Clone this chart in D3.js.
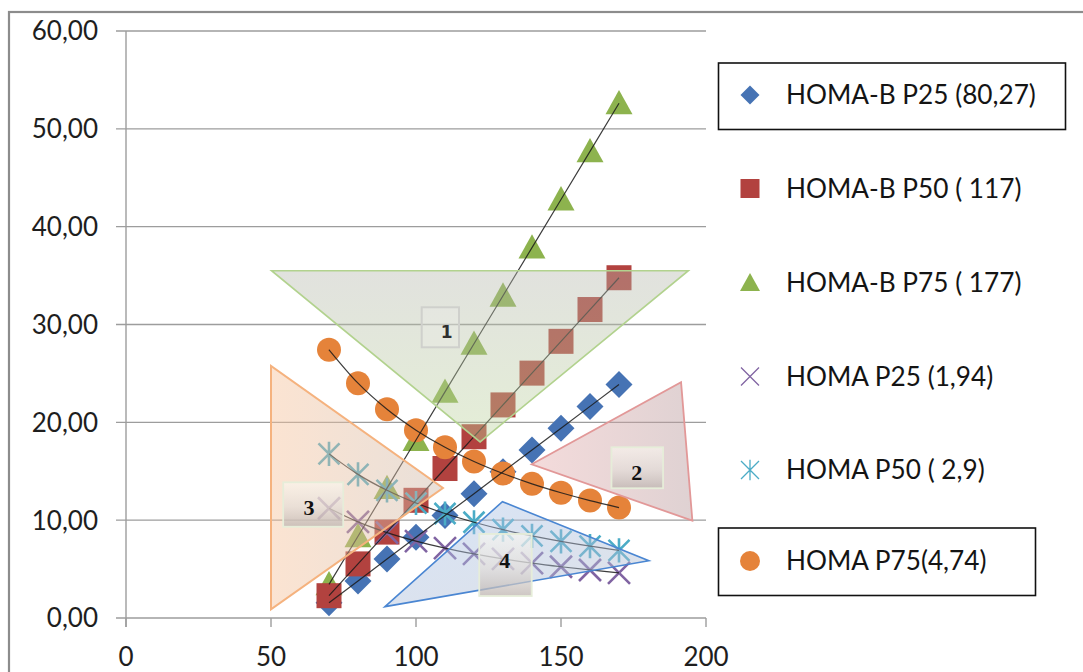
<!DOCTYPE html>
<html>
<head>
<meta charset="utf-8">
<script src="https://cdn.jsdelivr.net/npm/d3@7"></script>
<style>
  html, body { margin: 0; padding: 0; background: #ffffff; }
  svg { display: block; }
</style>
</head>
<body>
<svg id="chart" width="1083" height="672"></svg>
<script>
// Fasting glucose (mg/dL) on the x axis
const glucose = [70, 80, 90, 100, 110, 120, 130, 140, 150, 160, 170];

// Insulin values for each iso-line
const homaB25 = [1.56, 3.79, 6.02, 8.25, 10.48, 12.71, 14.94, 17.17, 19.40, 21.63, 23.86];
const homaB50 = [2.28, 5.53, 8.78, 12.03, 15.28, 18.53, 21.78, 25.03, 28.28, 31.53, 34.78];
const homaB75 = [3.44, 8.36, 13.28, 18.19, 23.11, 28.03, 32.94, 37.86, 42.78, 47.69, 52.61];
const homa25  = [11.22, 9.82, 8.73, 7.86, 7.14, 6.55, 6.04, 5.61, 5.24, 4.91, 4.62];
const homa50  = [16.78, 14.68, 13.05, 11.75, 10.68, 9.79, 9.03, 8.39, 7.83, 7.34, 6.91];
const homa75  = [27.42, 24.00, 21.33, 19.20, 17.45, 16.00, 14.77, 13.71, 12.80, 12.00, 11.29];

const seriesNames = [
  "HOMA-B P25 (80,27)", "HOMA-B P50 ( 117)", "HOMA-B P75 ( 177)",
  "HOMA P25 (1,94)", "HOMA P50 ( 2,9)", "HOMA P75(4,74)"
];

const xTicks = [0, 50, 100, 150, 200];
const yTicks = [0, 10, 20, 30, 40, 50, 60];

// Zone triangles and their numbered tags (data units)
const zoneTriangles = [
  [[50.2, 35.5], [193.9, 35.5], [122.1, 18.0]],
  [[139.9, 15.71], [191.4, 24.09], [195.3, 9.95]],
  [[50.0, 25.76], [50.0, 0.89], [109.3, 13.29]],
  [[89.3, 1.16], [129.8, 11.89], [180.3, 5.86]]
];
const zoneTags = ["1", "2", "3", "4"];
const zoneTagBoxes = [
  [101.97, 114.83, 27.67, 31.76],
  [167.4, 185.2, 13.26, 17.45],
  [54.2, 74.9, 9.33, 13.87],
  [121.8, 139.9, 2.25, 8.59]
];
const zoneTagPoints = [[110.6, 29.23], [176.1, 14.95], [63.1, 11.37], [130.6, 5.93]];

// ---------------------------------------------------------------------------
const svg = d3.select("#chart");
const x = d3.scaleLinear().domain([0, 200]).range([126, 706]);
const y = d3.scaleLinear().domain([0, 60]).range([618, 31]);

const FONT = "Lato, 'Open Sans', sans-serif";

const defs = svg.append("defs");
function linGrad(id, x2, y2, stops) {
  const g = defs.append("linearGradient").attr("id", id)
    .attr("x1", 0).attr("y1", 0).attr("x2", x2).attr("y2", y2);
  stops.forEach(s => g.append("stop").attr("offset", s[0])
    .attr("stop-color", s[1]).attr("stop-opacity", s[2]));
}
linGrad("g1", 0, 1, [[0, "#b4b6ac", 0.4], [1, "#bcd59a", 0.4]]);
linGrad("g2", 1, 0, [[0, "#e4a9a9", 0.42], [1, "#b89a9c", 0.45]]);
linGrad("g3", 1, 0, [[0, "#f7c29a", 0.45], [1, "#cdb9aa", 0.45]]);
linGrad("g4", 1, 1, [[0, "#a9c3ec", 0.45], [1, "#b3bccb", 0.45]]);
linGrad("gbox", 0, 1, [[0, "#fbf9f2", 0.6], [0.55, "#e2ddd8", 0.65], [1, "#bdb4b0", 0.75]]);

// outer frame
svg.append("rect").attr("x", 9).attr("y", 12).attr("width", 1100).attr("height", 700)
  .attr("fill", "none").attr("stroke", "#8c8c8c").attr("stroke-width", 2.2);

// horizontal gridlines with left tick stubs
svg.append("g").selectAll("line").data(yTicks).join("line")
  .attr("x1", 116).attr("x2", x(200))
  .attr("y1", d => y(d)).attr("y2", d => y(d))
  .attr("stroke", "#9d9d9d").attr("stroke-width", 1.4);

// vertical axis line
svg.append("line").attr("x1", x(0)).attr("x2", x(0)).attr("y1", y(60)).attr("y2", y(0) + 9)
  .attr("stroke", "#9d9d9d").attr("stroke-width", 1.4);

// x ticks
svg.append("g").selectAll("line").data(xTicks).join("line")
  .attr("x1", d => x(d)).attr("x2", d => x(d))
  .attr("y1", y(0)).attr("y2", y(0) + 9)
  .attr("stroke", "#9d9d9d").attr("stroke-width", 1.4);

const fmtComma = d => d3.format(".2f")(d).replace(".", ",");
svg.append("g").selectAll("text").data(yTicks).join("text")
  .attr("x", 98).attr("y", d => y(d)).attr("dy", "0.36em")
  .attr("text-anchor", "end").attr("font-family", FONT).attr("font-size", 26)
  .attr("fill", "#1e1e1e").text(fmtComma);

svg.append("g").selectAll("text").data(xTicks).join("text")
  .attr("x", d => x(d)).attr("y", 666)
  .attr("text-anchor", "middle").attr("font-family", FONT).attr("font-size", 26)
  .attr("fill", "#1e1e1e").text(d => d);

// ---------------------------------------------------------------------------
// marker shapes
const colors = ["#4673b4", "#b2423f", "#8db34e", "#8064a2", "#4bacc6", "#e5833a"];

function drawMarker(g, kind, cx, cy, s, color, thin) {
  if (kind === 0) {
    g.append("path").attr("d", `M${cx},${cy - s}L${cx + s},${cy}L${cx},${cy + s}L${cx - s},${cy}Z`)
      .attr("fill", color);
  } else if (kind === 1) {
    g.append("rect").attr("x", cx - s).attr("y", cy - s).attr("width", 2 * s).attr("height", 2 * s)
      .attr("fill", color);
  } else if (kind === 2) {
    const h = s * 1.8;
    g.append("path").attr("d", `M${cx},${cy - h * 0.55}L${cx + s},${cy + h * 0.45}L${cx - s},${cy + h * 0.45}Z`)
      .attr("fill", color);
  } else if (kind === 3 || kind === 4) {
    let d = `M${cx - s},${cy - s}L${cx + s},${cy + s}M${cx - s},${cy + s}L${cx + s},${cy - s}`;
    if (kind === 4) d += `M${cx},${cy - s * 1.15}L${cx},${cy + s * 1.15}`;
    g.append("path").attr("d", d).attr("fill", "none").attr("stroke", color)
      .attr("stroke-width", thin ? 1.3 : 2.6);
  } else {
    g.append("circle").attr("cx", cx).attr("cy", cy).attr("r", s).attr("fill", color);
  }
}

const allSeries = [homaB25, homaB50, homaB75, homa25, homa50, homa75];
const plotSizes = [13.5, 12.5, 13.5, 11, 10.5, 12];
const drawOrder = [0, 2, 1, 3, 4, 5];

const markerLayer = svg.append("g");
drawOrder.forEach(si => {
  const g = markerLayer.append("g");
  allSeries[si].forEach((v, i) => drawMarker(g, si, x(glucose[i]), y(v), plotSizes[si], colors[si], false));
});

// trend lines through each series
const lineLinear = d3.line().x((d, i) => x(glucose[i])).y(d => y(d));
const lineCurve = d3.line().x((d, i) => x(glucose[i])).y(d => y(d)).curve(d3.curveMonotoneX);
svg.append("g").selectAll("path").data(allSeries).join("path")
  .attr("d", (d, i) => i < 3 ? lineLinear(d) : lineCurve(d))
  .attr("fill", "none").attr("stroke", "#1a1a1a").attr("stroke-width", 1.2).attr("opacity", 0.85);

// ---------------------------------------------------------------------------
// zone triangles
const zoneStroke = ["#b2d28e", "#e29898", "#f5b27e", "#4a86d2"];
const zoneWidth = [1.6, 1.8, 2, 1.6];
svg.append("g").selectAll("path").data(zoneTriangles).join("path")
  .attr("d", pts => "M" + pts.map(p => `${x(p[0])},${y(p[1])}`).join("L") + "Z")
  .attr("fill", (d, i) => `url(#g${i + 1})`)
  .attr("stroke", (d, i) => zoneStroke[i]).attr("stroke-width", (d, i) => zoneWidth[i]);

// numbered tags
const tagG = svg.append("g");
zoneTagBoxes.forEach((b, i) => {
  tagG.append("rect")
    .attr("x", x(b[0])).attr("y", y(b[3]))
    .attr("width", x(b[1]) - x(b[0])).attr("height", y(b[2]) - y(b[3]))
    .attr("fill", i === 0 ? "rgba(235,236,232,0.35)" : "url(#gbox)")
    .attr("stroke", i === 0 ? "#cfd0cc" : "#e6edd9").attr("stroke-width", i === 0 ? 2 : 1.8);
});
zoneTags.forEach((t, i) => {
  tagG.append("text")
    .attr("x", x(zoneTagPoints[i][0])).attr("y", y(zoneTagPoints[i][1])).attr("dy", "0.36em")
    .attr("text-anchor", "middle")
    .attr("font-family", i === 0 ? "'DejaVu Sans', sans-serif" : "'Liberation Serif', serif")
    .attr("font-weight", "bold").attr("font-size", i === 0 ? 17 : 22)
    .attr("fill", i === 0 ? "#2e2e2e" : "#111").text(t);
});

// ---------------------------------------------------------------------------
// legend
const legendY = [95, 188.5, 283, 376.5, 470, 561];
const legendSizes = [9.5, 9.5, 10, 9, 9, 10];
const legend = svg.append("g");
seriesNames.forEach((name, i) => {
  drawMarker(legend, i, 750, legendY[i], legendSizes[i], colors[i], true);
  legend.append("text").attr("x", 786).attr("y", legendY[i]).attr("dy", "0.36em")
    .attr("font-family", FONT).attr("font-size", 26.2).attr("fill", "#141414").text(name);
});
// framed legend entries
legend.append("rect").attr("x", 718.5).attr("y", 63).attr("width", 347).attr("height", 66.5)
  .attr("fill", "none").attr("stroke", "#111").attr("stroke-width", 1.6);
legend.append("rect").attr("x", 718.5).attr("y", 528).attr("width", 317).attr("height", 67.5)
  .attr("fill", "none").attr("stroke", "#111").attr("stroke-width", 1.6);
</script>
</body>
</html>
